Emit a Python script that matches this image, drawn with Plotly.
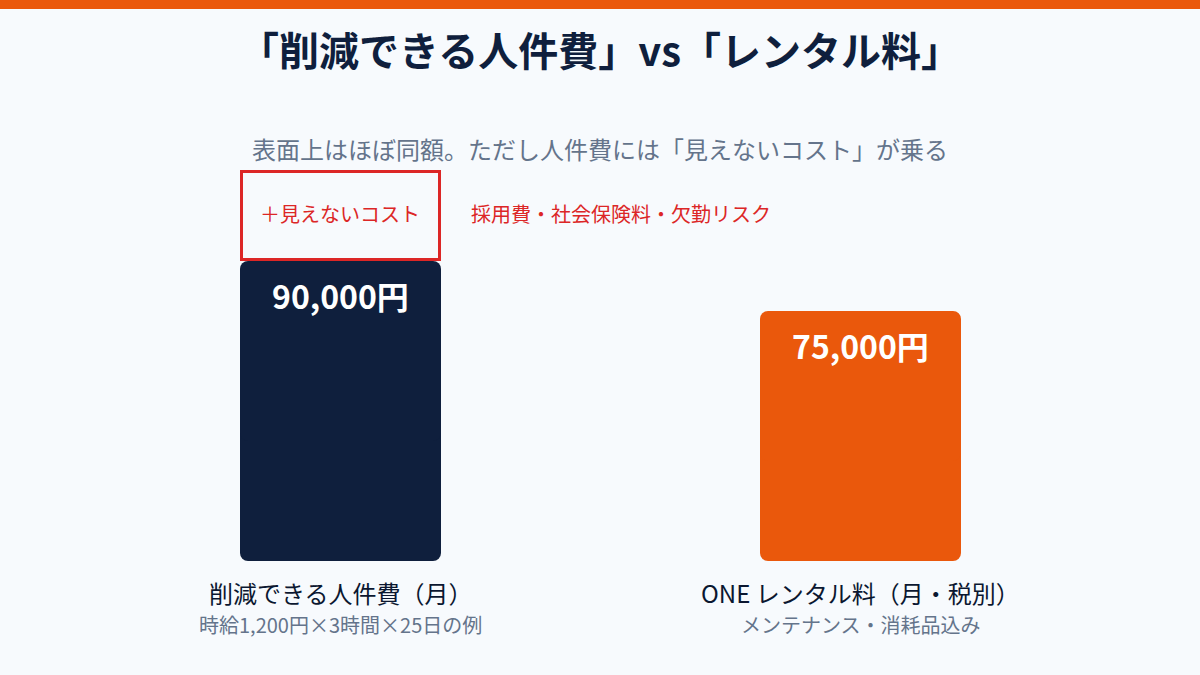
import plotly.graph_objects as go

FONT = "Noto Sans CJK JP"
NAVY = "#0f1f3d"
INK = "#0b1730"
ORANGE = "#ea580c"
RED = "#dc2626"
GRAY = "#64748b"
BG = "#f7fafd"

categories = ["削減できる人件費（月）", "ONE レンタル料（月・税別）"]
subtitles = ["時給1,200円×3時間×25日の例", "メンテナンス・消耗品込み"]
values = [90000, 75000]
bar_colors = [NAVY, ORANGE]
hidden_cost = 26400
hidden_label = "＋見えないコスト"
hidden_note = "採用費・社会保険料・欠勤リスク"

positions = list(range(len(values)))

fig = go.Figure()

# plotly only rounds the far end of a bar, so each bar is two overlapping
# halves growing in opposite directions, to get round corners top and bottom
fig.add_trace(go.Bar(
    x=positions, y=[-v * 0.6 for v in values], base=[v * 0.6 for v in values],
    width=201 / 520, marker=dict(color=bar_colors, line_width=0),
    hoverinfo="skip",
))
fig.add_trace(go.Bar(
    x=positions, y=[v * 0.6 for v in values], base=[v * 0.4 for v in values],
    width=201 / 520, marker=dict(color=bar_colors, line_width=0),
    hoverinfo="skip",
))
# the hidden cost box sits on top of the first bar, 450 is half its border
fig.add_trace(go.Bar(
    x=[0], y=[hidden_cost], base=[values[0] + 450],
    width=198 / 520,
    marker=dict(color="rgba(0,0,0,0)", line=dict(color=RED, width=3), cornerradius=0),
    hoverinfo="skip",
))

annotations = [
    dict(text="「削減できる人件費」vs「レンタル料」", xref="paper", yref="paper", x=0.5, y=1,
         yshift=-49, yanchor="middle", showarrow=False,
         font=dict(size=40, color=NAVY, weight="bold")),
    dict(text="表面上はほぼ同額。ただし人件費には「見えないコスト」が乗る", xref="paper", yref="paper",
         x=0.5, y=1, yshift=-148, yanchor="middle", showarrow=False,
         font=dict(size=24, color=GRAY)),
    dict(text=hidden_label, x=0, y=values[0] + hidden_cost / 2, yshift=4, xshift=-1, yanchor="middle",
         showarrow=False, font=dict(size=20, color=RED)),
    dict(text=hidden_note, x=0, y=values[0] + hidden_cost / 2, yshift=4, xanchor="left", xshift=128,
         yanchor="middle", showarrow=False, font=dict(size=20, color=RED)),
]
for pos, cat, sub, val in zip(positions, categories, subtitles, values):
    annotations.append(dict(text=f"{val:,}円", x=pos, y=val, yshift=-34, yanchor="middle",
                            showarrow=False, font=dict(size=32, color="white", weight="bold")))
    annotations.append(dict(text=cat, x=pos, y=0, yshift=-31, yanchor="middle",
                            showarrow=False, font=dict(size=24, color=INK)))
    annotations.append(dict(text=sub, x=pos, y=0, yshift=-63, yanchor="middle",
                            showarrow=False, font=dict(size=20, color=GRAY)))

fig.update_layout(
    width=1200, height=675,
    margin=dict(l=0, r=0, t=0, b=0),
    paper_bgcolor=BG, plot_bgcolor=BG,
    font=dict(family=FONT),
    showlegend=False,
    barmode="overlay",
    barcornerradius=8,
    xaxis=dict(range=[-340.5 / 520, 859.5 / 520], visible=False, fixedrange=True),
    yaxis=dict(range=[-114 * 300, 561 * 300], visible=False, fixedrange=True),
    annotations=annotations,
    # orange strip along the top
    shapes=[dict(type="rect", xref="paper", yref="paper", x0=0, x1=1, y0=666 / 675, y1=1,
                 fillcolor=ORANGE, line_width=0)],
)

# page default body margin would push the chart off by 8px
fig.write_html("out.html", config=dict(displayModeBar=False),
               post_script="document.body.style.margin='0';document.body.style.overflow='hidden';")
